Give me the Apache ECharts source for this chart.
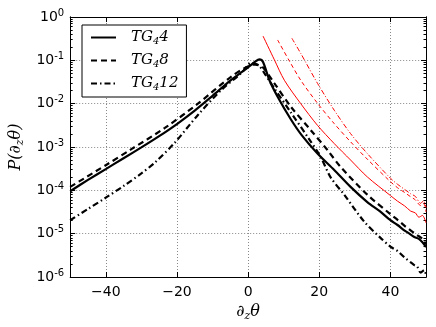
<!DOCTYPE html>
<html>
<head>
  <meta charset="UTF-8">
  <title>P(dz theta)</title>
  <script src="https://cdn.jsdelivr.net/npm/echarts/dist/echarts.min.js"></script>
</head>
<body style="margin: 0; background: #fff;">
  <div id="main" style="width: 436px; height: 327px;"></div>
  <script type="text/javascript">
    // tick positions
    var xTicks = [-40, -20, 0, 20, 40];
    var yDecades = [-6, -5, -4, -3, -2, -1, 0];

    // values: x and log10(P)
    var tg4X = [-50, -45, -40, -35, -30, -25, -20, -15, -10, -5, 0, 2, 3.2, 4.2, 6, 8.3, 12, 15, 19.5, 24.2, 28.8, 33.5, 37, 40, 42, 44, 45, 46.6, 48, 49, 50];
    var tg4Y = [-4.02, -3.76, -3.51, -3.26, -3.01, -2.75, -2.47, -2.16, -1.82, -1.47, -1.16, -1.03, -0.98, -1.04, -1.46, -1.84, -2.36, -2.72, -3.15, -3.53, -3.92, -4.27, -4.48, -4.69, -4.80, -4.93, -4.98, -5.07, -5.12, -5.20, -5.31];

    var tg8X = [-50, -40, -32.8, -23.4, -14.1, -4.8, 0.8, 2, 4, 7.4, 12, 17.6, 22.3, 26, 33.5, 40, 42, 44, 45, 46.6, 48, 49, 50];
    var tg8Y = [-3.92, -3.42, -3.05, -2.56, -2.00, -1.38, -1.11, -1.10, -1.15, -1.53, -2.07, -2.61, -3.07, -3.46, -4.10, -4.55, -4.68, -4.82, -4.88, -4.98, -5.06, -5.12, -5.25];

    var tg12X = [-50, -45, -40, -35, -30, -26.2, -20.6, -14.1, -7.6, -2, 1, 3, 5, 7.4, 12, 17, 20.4, 23.2, 27, 32.6, 37, 40, 42, 44, 46.6, 47.5, 48.5, 49.5, 50];
    var tg12Y = [-4.69, -4.43, -4.17, -3.90, -3.61, -3.36, -2.90, -2.26, -1.69, -1.30, -1.06, -1.12, -1.35, -1.65, -2.20, -2.80, -3.23, -3.70, -4.10, -4.72, -5.08, -5.30, -5.40, -5.55, -5.72, -5.76, -5.90, -5.84, -5.95];

    var red1X = [4.2, 7.4, 10.2, 14.8, 19.5, 24.2, 28.8, 33.5, 40, 42, 44, 45.7, 47, 48, 49, 50];
    var red1Y = [-0.44, -0.99, -1.46, -2.00, -2.50, -2.92, -3.30, -3.69, -4.12, -4.25, -4.36, -4.48, -4.52, -4.62, -4.58, -4.75];

    var red2X = [8.3, 11.5, 14.8, 19.5, 24.2, 28.8, 33.5, 40, 42, 44, 45.7, 47, 48.5, 49.3, 50];
    var red2Y = [-0.53, -1.00, -1.46, -1.99, -2.46, -2.88, -3.28, -3.80, -3.94, -4.05, -4.15, -4.22, -4.35, -4.30, -4.50];

    var red3X = [12.3, 14.8, 19.5, 24.2, 28.8, 33.5, 40, 42, 44, 45.7, 47, 48.5, 49.3, 50];
    var red3Y = [-0.49, -0.84, -1.53, -2.15, -2.69, -3.15, -3.72, -3.86, -3.98, -4.08, -4.14, -4.30, -4.24, -4.40];

    function pts(xs, ys) {
      return xs.map(function (x, i) { return [x, Math.pow(10, ys[i])]; });
    }

    var minorVals = [];
    for (var e = -6; e < 0; e++) {
      for (var m = 2; m <= 9; m++) minorVals.push(m * Math.pow(10, e));
    }
    var majorVals = yDecades.map(function (d) { return Math.pow(10, d); });

    var frame = { show: true, onZero: false, lineStyle: { color: '#000', width: 1 } };
    var gridLine = { show: true, lineStyle: { color: '#888', width: 1, type: [1, 2] } };

    function yAxisDef(pos, minor, withLabel) {
      return {
        type: 'log', logBase: 10, min: 1e-6, max: 1, position: pos,
        axisLine: frame,
        axisTick: { show: true, inside: true, length: minor ? 2.5 : 5, customValues: minor ? minorVals : majorVals, lineStyle: { color: '#000' } },
        axisLabel: withLabel ? {
          show: true, customValues: majorVals, margin: 6,
          formatter: function (v) { return '{n|10}{s|' + Math.round(Math.log10(v)) + '}'; },
          rich: {
            n: { fontFamily: 'DejaVu Sans', fontSize: 14, color: '#000' },
            s: { fontFamily: 'DejaVu Sans', fontSize: 10, color: '#000', verticalAlign: 'top', padding: [0, 0, 8, 0] }
          }
        } : { show: false },
        splitLine: (withLabel && !minor) ? gridLine : { show: false }
      };
    }

    function xAxisDef(pos, withLabel) {
      return {
        type: 'value', min: -50, max: 50, position: pos,
        axisLine: frame,
        axisTick: { show: true, inside: true, length: 5, customValues: xTicks, lineStyle: { color: '#000' } },
        axisLabel: withLabel ? {
          show: true, customValues: xTicks, margin: 8,
          fontFamily: 'DejaVu Sans', fontSize: 14, color: '#000',
          formatter: function (v) { return String(v).replace('-', '\u2212'); }
        } : { show: false },
        splitLine: withLabel ? gridLine : { show: false }
      };
    }

    var nameRich = {
      d: { fontFamily: 'DejaVu Serif', fontStyle: 'italic', fontSize: 16, color: '#000' },
      z: { fontFamily: 'DejaVu Serif', fontStyle: 'italic', fontSize: 11, color: '#000', padding: [8, 0, 0, 0] }
    };

    var xa = xAxisDef('bottom', true);
    xa.name = '{d|\u2202}{z|z}{d|\u03b8}';
    xa.nameLocation = 'middle';
    xa.nameGap = 21;
    xa.nameTextStyle = { rich: nameRich };

    var ya = yAxisDef('left', false, true);
    ya.name = '{d|P(\u2202}{z|z}{d|\u03b8)}';
    ya.nameLocation = 'middle';
    ya.nameRotate = 90;
    ya.nameGap = 41;
    ya.nameTextStyle = { rich: nameRich };

    function line(name, data, color, width, type) {
      return {
        name: name, type: 'line', data: data, symbol: 'none', smooth: 0.3,
        xAxisIndex: 0, yAxisIndex: 0,
        lineStyle: { color: color, width: width, type: type },
        itemStyle: { color: 'rgba(0,0,0,0)', borderWidth: 0 },
        emphasis: { disabled: true }, silent: true, animation: false
      };
    }

    var chart = echarts.init(document.getElementById('main'));
    chart.setOption({
      animation: false,
      grid: { left: 69, right: 10, top: 17, bottom: 50 },
      xAxis: [xa, xAxisDef('top', false)],
      yAxis: [ya, yAxisDef('right', false, false), yAxisDef('left', true, false), yAxisDef('right', true, false)],
      legend: {
        data: ['TG4 4', 'TG4 8', 'TG4 12'],
        orient: 'vertical', left: 82, top: 25,
        padding: [5, 8, 5, 8],
        itemWidth: 25, itemHeight: 12, itemGap: 7,
        borderColor: '#000', borderWidth: 1, borderRadius: 0,
        backgroundColor: '#fff',
        selectedMode: false,
        itemStyle: { color: 'rgba(0,0,0,0)', borderWidth: 0 },
        formatter: function (n) {
          var p = n.split(' ');
          return '{a|TG}{b|4}{a|' + p[1] + '}';
        },
        textStyle: {
          padding: [0, 0, 0, 10],
          rich: {
            a: { fontFamily: 'DejaVu Serif', fontStyle: 'italic', fontSize: 15, color: '#000' },
            b: { fontFamily: 'DejaVu Serif', fontStyle: 'italic', fontSize: 10, color: '#000', padding: [7, 0, 0, 0] }
          }
        }
      },
      series: [
        line('TG4 4', pts(tg4X, tg4Y), '#000', 2.2, 'solid'),
        line('TG4 8', pts(tg8X, tg8Y), '#000', 2.2, [6, 4]),
        line('TG4 12', pts(tg12X, tg12Y), '#000', 2.2, [6, 3, 1.5, 3]),
        line('red 4', pts(red1X, red1Y), '#ff0000', 1, 'solid'),
        line('red 8', pts(red2X, red2Y), '#ff0000', 1, [4, 3]),
        line('red 12', pts(red3X, red3Y), '#ff0000', 1, [5, 2, 1, 2])
      ]
    });
  </script>
</body>
</html>
